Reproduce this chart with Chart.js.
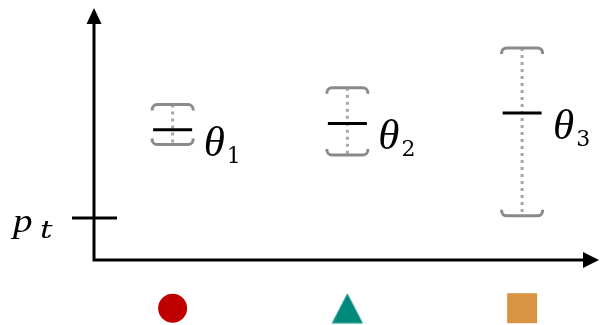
<!DOCTYPE html>
<html>
<head>
<meta charset="utf-8">
<script src="https://cdn.jsdelivr.net/npm/chart.js@4.4.1/dist/chart.umd.min.js"></script>
<style>
  html, body { margin: 0; padding: 0; background: #ffffff; overflow: hidden; }
  canvas { display: block; }
</style>
</head>
<body>
<canvas id="intervalChart" width="603" height="325" style="width:603px;height:325px"></canvas>
<script>
// groups along the x axis, one interval per group
const groups = [1, 2, 3];
const thetaSubs = ['1', '2', '3'];
const thetaMid = [0.62, 0.65, 0.70];
const thetaLow = [0.55, 0.50, 0.21];
const thetaHigh = [0.74, 0.82, 1.01];
// threshold tick on the y axis
const ptValue = 0.2;
// marker row under the x axis
const markerRow = [-0.23, -0.23, -0.23];
const markerColors = ['#c00000', '#008a7b', '#d99441'];

// filled triangle as an image so it sits centred on its box
function makeTriangle(color) {
    const c = document.createElement('canvas');
    c.width = 32;
    c.height = 31;
    const g = c.getContext('2d');
    g.fillStyle = color;
    g.beginPath();
    g.moveTo(16, 0.5);
    g.lineTo(31.5, 30.5);
    g.lineTo(0.5, 30.5);
    g.closePath();
    g.fill();
    return c;
}

// text stretched horizontally, left edge at x; returns drawn width
function wideText(ctx, str, x, y, sx) {
    ctx.save();
    ctx.translate(x, y);
    ctx.scale(sx, 1);
    ctx.fillText(str, 0, 0);
    const w = ctx.measureText(str).width * sx;
    ctx.restore();
    return w;
}

const intervalPlugin = {
    id: 'intervalPlugin',
    beforeDatasetsDraw(chart) {
        const ctx = chart.ctx;
        const xs = chart.scales.x;
        const ys = chart.scales.y;
        const area = chart.chartArea;

        ctx.save();
        // intervals
        groups.forEach((g, i) => {
            const cx = xs.getPixelForValue(g);
            const yTop = ys.getPixelForValue(thetaHigh[i]);
            const yBot = ys.getPixelForValue(thetaLow[i]);
            const yMid = ys.getPixelForValue(thetaMid[i]);

            // dotted spine
            ctx.strokeStyle = '#a6a6a6';
            ctx.lineWidth = 3;
            ctx.setLineDash([3, 4]);
            ctx.beginPath();
            ctx.moveTo(cx, yTop);
            ctx.lineTo(cx, yBot);
            ctx.stroke();
            ctx.setLineDash([]);

            // rounded brackets
            const hw = 20.5, leg = 6, r = 5;
            ctx.strokeStyle = '#8a8a8a';
            ctx.lineWidth = 3;
            ctx.beginPath();
            ctx.moveTo(cx - hw, yTop + leg);
            ctx.arcTo(cx - hw, yTop, cx, yTop, r);
            ctx.arcTo(cx + hw, yTop, cx + hw, yTop + leg, r);
            ctx.lineTo(cx + hw, yTop + leg);
            ctx.stroke();
            ctx.beginPath();
            ctx.moveTo(cx - hw, yBot - leg);
            ctx.arcTo(cx - hw, yBot, cx, yBot, r);
            ctx.arcTo(cx + hw, yBot, cx + hw, yBot - leg, r);
            ctx.lineTo(cx + hw, yBot - leg);
            ctx.stroke();

            // estimate
            ctx.strokeStyle = '#000000';
            ctx.beginPath();
            ctx.moveTo(cx - 19.5, yMid);
            ctx.lineTo(cx + 19.5, yMid);
            ctx.stroke();

            // theta label with subscript
            ctx.fillStyle = '#000000';
            ctx.textBaseline = 'alphabetic';
            ctx.textAlign = 'left';
            ctx.font = 'italic 43px "Liberation Serif"';
            const lx = cx + 31;
            const ly = yMid + 26;
            const tw = wideText(ctx, '\u03b8', lx, ly, 1);
            ctx.font = '22px "DejaVu Serif"';
            ctx.fillText(thetaSubs[i], lx + tw + 2, ly + 7);
        });

        // axes with arrow heads
        const ox = xs.getPixelForValue(xs.min);
        const oy = ys.getPixelForValue(0);
        ctx.strokeStyle = '#000000';
        ctx.fillStyle = '#000000';
        ctx.lineWidth = 3;
        ctx.beginPath();
        ctx.moveTo(ox, oy + 1.5);
        ctx.lineTo(ox, area.top + 14);
        ctx.moveTo(ox - 1.5, oy);
        ctx.lineTo(area.right - 14, oy);
        ctx.stroke();
        ctx.beginPath();
        ctx.moveTo(ox, area.top);
        ctx.lineTo(ox + 7.5, area.top + 16);
        ctx.lineTo(ox - 7.5, area.top + 16);
        ctx.closePath();
        ctx.fill();
        ctx.beginPath();
        ctx.moveTo(area.right, oy);
        ctx.lineTo(area.right - 16, oy - 8);
        ctx.lineTo(area.right - 16, oy + 8);
        ctx.closePath();
        ctx.fill();

        // p_t tick and label
        const py = ys.getPixelForValue(ptValue);
        ctx.beginPath();
        ctx.moveTo(ox - 22, py);
        ctx.lineTo(ox + 23, py);
        ctx.stroke();
        ctx.font = 'italic 34px "Liberation Serif"';
        wideText(ctx, 'p', 13, py + 14, 1.15);
        ctx.font = 'italic 24px "DejaVu Serif"';
        wideText(ctx, 't', 40, py + 20, 1.3);
        ctx.restore();
    }
};

const ctx = document.getElementById('intervalChart').getContext('2d');
new Chart(ctx, {
    type: 'scatter',
    data: {
        datasets: [{
            data: groups.map((g, i) => ({ x: g, y: markerRow[i] })),
            backgroundColor: markerColors,
            borderWidth: 0,
            pointStyle: ['circle', makeTriangle(markerColors[1]), 'rect'],
            pointRadius: [14.5, 15, 21.2],
            pointHoverRadius: [14.5, 15, 21.2]
        }]
    },
    options: {
        responsive: false,
        maintainAspectRatio: false,
        animation: false,
        devicePixelRatio: 1,
        layout: { autoPadding: false, padding: { left: 94, right: 4, top: 8, bottom: 0 } },
        scales: {
            x: { type: 'linear', min: 0.55, max: 3.44, display: false },
            y: { type: 'linear', min: -0.31, max: 1.2, display: false }
        },
        plugins: {
            legend: { display: false },
            tooltip: { enabled: false }
        }
    },
    plugins: [intervalPlugin]
});
</script>
</body>
</html>
